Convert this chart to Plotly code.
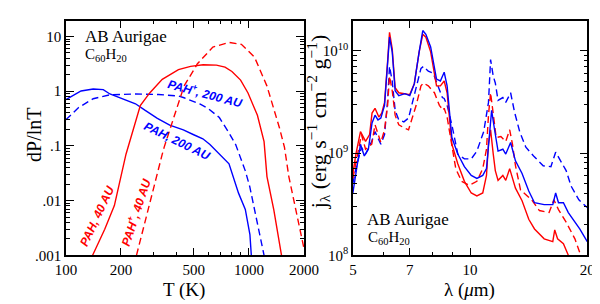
import numpy as np
import plotly.graph_objects as go

# ---------------- Left panel: dP/dlnT vs T ----------------
T_pah200 = [100, 121, 141, 160, 174, 196, 240, 270, 316, 369, 438, 499, 560, 612, 688, 778, 877, 955, 1012, 1030]
P_pah200 = [0.70, 1.01, 1.10, 1.07, 0.89, 0.76, 0.59, 0.45, 0.32, 0.24, 0.196, 0.16, 0.135, 0.106, 0.071, 0.047, 0.0137, 0.0069, 0.0024, 0.001]

T_ion200 = [100, 117, 141, 174, 240, 320, 412, 442, 542, 600, 689, 716, 780, 846, 900, 955, 1010, 1072, 1153, 1209]
P_ion200 = [0.30, 0.50, 0.73, 0.86, 0.89, 0.87, 0.82, 0.76, 0.58, 0.48, 0.33, 0.27, 0.17, 0.106, 0.062, 0.035, 0.018, 0.0069, 0.0024, 0.001]

T_pah40 = [140, 163, 184, 213, 255, 287, 336, 412, 480, 562, 664, 740, 807, 900, 988, 1112, 1209, 1254, 1366, 1506]
P_pah40 = [0.001, 0.003, 0.0081, 0.0706, 0.547, 0.93, 1.65, 2.49, 2.85, 3.05, 3.0, 2.75, 2.3, 1.6, 0.93, 0.363, 0.12, 0.0275, 0.00685, 0.001]

T_ion40 = [243, 274, 309, 336, 344, 392, 442, 523, 635, 778, 909, 1072, 1254, 1468, 1563, 1651, 1797, 1958, 2000]
P_ion40 = [0.001, 0.00455, 0.0234, 0.0706, 0.094, 0.363, 1.24, 3.18, 6.4, 7.8, 7.2, 4.2, 1.24, 0.213, 0.094, 0.0275, 0.00685, 0.0019, 0.0013]

T_ticks = [100, 200, 500, 1000, 2000]
T_ticktext = ["100", "200", "500", "1000", "2000"]
P_ticks = [0.001, 0.01, 0.1, 1, 10]
P_ticktext = [".001", ".01", ".1", "1", "10"]

# ---------------- Right panel: j_lambda vs lambda (units of 1e8) ----------------
lam_bs = [5.00, 5.09, 5.23, 5.35, 5.48, 5.60, 5.70, 5.80, 5.90, 6.03, 6.14, 6.21, 6.31, 6.42, 6.56, 6.80, 7.00, 7.19, 7.40, 7.56,
          7.70, 7.92, 8.20, 8.39, 8.58, 8.73, 8.98, 9.30, 9.67, 10.07, 10.41, 10.78, 11.02, 11.23, 11.36, 11.56, 11.80, 12.14, 12.35,
          12.71, 13.08, 13.60, 14.15, 14.64, 15.50, 16.31, 16.59, 16.87, 17.37, 17.88, 18.59, 19.13, 20.0]
j_bs = [4.07, 6.59, 12.2, 9.36, 10.9, 19.7, 23.5, 21.1, 22.0, 29.3, 70.4, 136, 97.8, 40.7, 36.5, 38.1, 36.5, 47.5, 97.8, 158,
        145, 109, 52.9, 50.7, 61.7, 45.4, 14.2, 9.78, 7.36, 6.04, 5.65, 6.04, 7.04, 15.2, 26.2, 16.9, 10.45, 10.9, 9.78,
        12.7, 8.39, 6.31, 4.25, 3.27, 3.13, 3.13, 4.07, 3.27, 3.27, 2.62, 2.11, 1.81, 1.36]

lam_rs = [5.00, 5.09, 5.23, 5.39, 5.52, 5.60, 5.70, 5.83, 5.93, 6.03, 6.14, 6.21, 6.31, 6.42, 6.56, 6.80, 7.00, 7.19, 7.40, 7.56,
          7.70, 7.92, 8.20, 8.39, 8.58, 8.73, 8.98, 9.30, 9.67, 10.07, 10.41, 10.78, 11.02, 11.15, 11.29, 11.47, 11.61, 11.80,
          12.14, 12.35, 12.64, 13.08, 13.60, 14.15, 14.64, 15.50, 16.31, 16.50, 16.78, 17.37, 17.88]
j_rs = [6.31, 9.78, 16.2, 13.0, 15.2, 24.6, 27.4, 22.5, 24.6, 31.3, 78.6, 151.7, 104.5, 43.5, 38.9, 38.1, 37.3, 47.5, 97.8, 145,
        136, 97.8, 45.4, 45.4, 50.7, 38.9, 12.2, 7.86, 5.29, 4.07, 3.81, 4.07, 6.04, 12.2, 16.9, 9.78, 6.74, 5.41,
        6.04, 5.41, 7.04, 4.54, 3.42, 2.25, 1.81, 1.45, 1.36, 1.77, 1.45, 1.30, 1.0]

lam_bd = [5.00, 5.09, 5.26, 5.39, 5.59, 5.70, 5.90, 6.03, 6.14, 6.21, 6.31, 6.42, 6.56, 6.76, 6.95, 7.27, 7.48, 7.59, 7.81, 8.04,
          8.29, 8.49, 8.58, 8.73, 8.98, 9.30, 9.67, 10.07, 10.41, 10.84, 11.15, 11.29, 11.47, 11.61, 11.80, 12.14, 12.35, 12.71,
          13.01, 13.41, 13.91, 14.56, 15.41, 16.13, 16.59, 17.07, 17.65, 18.18, 19.03, 20.0]
j_bd = [5.07, 7.04, 11.4, 9.78, 13.0, 16.2, 12.2, 15.2, 32.7, 70.4, 50.7, 26.2, 21.1, 20.2, 22.0, 42.5, 67.4, 70.4, 63.1, 60.4,
        45.4, 34.9, 34.2, 29.3, 18.9, 9.78, 8.77, 8.77, 10.45, 16.2, 31.3, 82.1, 56.5, 48.5, 32.7, 34.9, 31.3, 38.9,
        25.1, 16.2, 11.4, 9.36, 7.52, 7.36, 10.2, 8.39, 6.74, 4.75, 3.49, 2.93]

lam_rd = [5.00, 5.09, 5.26, 5.39, 5.59, 5.70, 5.90, 6.03, 6.14, 6.21, 6.31, 6.42, 6.56, 6.76, 6.95, 7.27, 7.48, 7.59, 7.81, 8.10,
          8.34, 8.53, 8.58, 8.73, 8.98, 9.19, 9.51, 9.95, 10.41, 10.78, 11.02, 11.15, 11.29, 11.47, 11.67, 12.0, 12.35, 12.64,
          12.85, 13.08, 13.48, 14.39, 15.07, 15.96, 16.41, 16.87, 17.65, 18.59, 19.24]
j_rd = [5.65, 7.86, 15.2, 10.9, 12.2, 18.9, 12.7, 16.9, 29.3, 56.5, 40.7, 23.5, 18.9, 17.7, 16.9, 29.3, 45.4, 48.5, 45.4, 38.9,
        29.3, 26.2, 27.4, 22.5, 12.2, 7.04, 5.29, 4.85, 5.29, 7.04, 10.9, 23.5, 38.9, 25.1, 14.2, 14.5, 13.0, 16.9,
        12.2, 7.52, 4.35, 3.49, 2.74, 2.62, 3.49, 2.80, 2.11, 1.45, 1.0]
J_UNIT = 1e8

lam_ticks = [5, 7, 10, 20]
lam_ticktext = ["5", "7", "10", "20"]
j_ticks = [1e8, 1e9, 1e10]
j_ticktext = ["10<sup>8</sup>", "10<sup>9</sup>", "10<sup>10</sup>"]

RED = "#ff0000"
BLUE = "#0000ff"
LW = 1.4
DASH = "7px,4px"

fig = go.Figure()

def add(x, y, color, dash, xa, ya):
    fig.add_trace(go.Scatter(x=x, y=y, mode="lines", xaxis=xa, yaxis=ya,
                             line=dict(color=color, width=LW, dash=dash),
                             hoverinfo="skip", showlegend=False))

add(T_pah200, P_pah200, BLUE, "solid", "x", "y")
add(T_ion200, P_ion200, BLUE, DASH, "x", "y")
add(T_pah40, P_pah40, RED, "solid", "x", "y")
add(T_ion40, P_ion40, RED, DASH, "x", "y")

add(lam_bd, np.array(j_bd) * J_UNIT, BLUE, DASH, "x2", "y2")
add(lam_rd, np.array(j_rd) * J_UNIT, RED, DASH, "x2", "y2")
add(lam_rs, np.array(j_rs) * J_UNIT, RED, "solid", "x2", "y2")
add(lam_bs, np.array(j_bs) * J_UNIT, BLUE, "solid", "x2", "y2")

SERIF = "Liberation Serif"
tickfont = dict(family=SERIF, size=15, color="black")

def minor_vals(lo_dec, hi_dec, lo, hi):
    vals = []
    for d in range(lo_dec, hi_dec + 1):
        for m in range(2, 10):
            v = m * 10.0 ** d
            if lo < v < hi:
                vals.append(v)
    return vals

axis_common = dict(type="log", showgrid=False, zeroline=False, showline=True,
                   linecolor="black", linewidth=1.5, mirror="ticks",
                   ticks="inside", ticklen=8, tickwidth=1.3, tickcolor="black",
                   tickmode="array", tickfont=tickfont)

def minor(vals):
    return dict(tickmode="array", tickvals=vals, ticks="inside", ticklen=4,
                tickwidth=1.1, tickcolor="black", showgrid=False)

fig.update_layout(
    width=600, height=304,
    margin=dict(l=0, r=0, t=0, b=0),
    paper_bgcolor="white", plot_bgcolor="white",
    showlegend=False,
    xaxis=dict(axis_common, domain=[49 / 600, 298 / 600], anchor="y",
               range=[2, np.log10(2000)], tickvals=T_ticks, ticktext=T_ticktext,
               minor=minor(minor_vals(2, 3, 100, 2000))),
    yaxis=dict(axis_common, domain=[50 / 304, 291 / 304], anchor="x",
               range=[-3, 1.29], tickvals=P_ticks, ticktext=P_ticktext,
               minor=minor(minor_vals(-3, 1, 0.001, 19.5))),
    xaxis2=dict(axis_common, domain=[349 / 600, 594 / 600], anchor="y2",
                range=[np.log10(5), np.log10(20)], tickvals=lam_ticks, ticktext=lam_ticktext,
                minor=minor(minor_vals(0, 1, 5, 20))),
    yaxis2=dict(axis_common, domain=[50 / 304, 291 / 304], anchor="x2",
                range=[8, 10.295], tickvals=j_ticks, ticktext=j_ticktext,
                minor=minor(minor_vals(8, 10, 1e8, 1.9e10))),
)

def ann(text, px, py, size, angle=0, color="black", family=SERIF, italic=False, bold=False, xanchor="center"):
    fig.add_annotation(text=text, x=px / 600, y=1 - py / 304, xref="paper", yref="paper",
                       showarrow=False, textangle=angle, xanchor=xanchor, yanchor="middle",
                       borderpad=0,
                       font=dict(family=family, size=size, color=color,
                                 style="italic" if italic else "normal",
                                 weight="bold" if bold else "normal"))

# axis titles
ann("T (K)", 172, 290, 19)
ann("dP/lnT", 15, 130, 20, angle=-90)
ann("λ (<i>μ</i>m)", 471, 290, 19)
ann("j<sub>λ</sub> (erg s<sup>−1</sup> cm<sup>−2</sup> g<sup>−1</sup>)", 313, 117, 22, angle=-90)

# panel labels
ann("AB Aurigae", 68, 29, 17, xanchor="left")
ann("C<sub>60</sub>H<sub>20</sub>", 68, 48, 15, xanchor="left")
ann("AB Aurigae", 363, 217, 17, xanchor="left")
ann("C<sub>60</sub>H<sub>20</sub>", 364, 236, 15, xanchor="left")

SANS = "Liberation Sans"
ann("PAH<sup>+</sup>, 200 AU", 195, 87, 12, angle=15, color=BLUE, family=SANS, italic=True, bold=True)
ann("PAH, 200 AU", 165, 137, 12, angle=26, color=BLUE, family=SANS, italic=True, bold=True)
ann("PAH, 40 AU", 82, 214, 12, angle=-65, color=RED, family=SANS, italic=True, bold=True)
ann("PAH<sup>+</sup>, 40 AU", 122, 210, 12, angle=-72, color=RED, family=SANS, italic=True, bold=True)

fig.write_html("out.html")
